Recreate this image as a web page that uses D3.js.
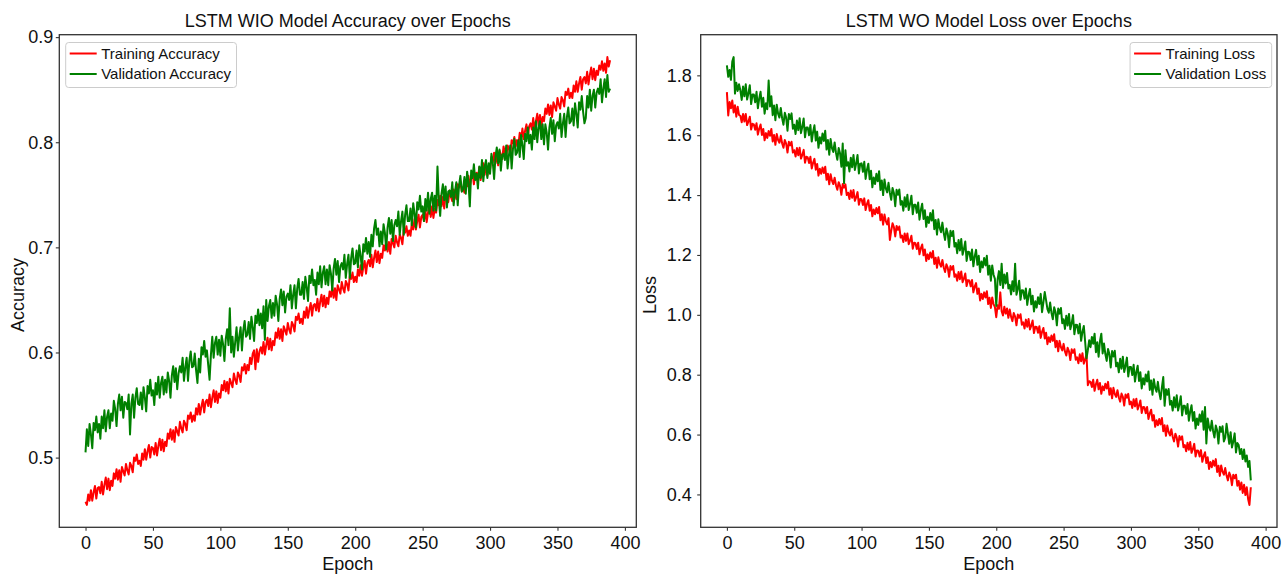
<!DOCTYPE html>
<meta charset="utf-8">
<style>

body {
  margin: 0;
  background: #fff;
}

svg {
  font-family: "Liberation Sans", Arial, sans-serif;
}

.spine {
  fill: none;
  stroke: #333;
  stroke-width: 1.3px;
}

.axis path {
  display: none;
}

.axis line {
  stroke: #333;
  stroke-width: 1.1px;
}

.axis text {
  font-size: 18px;
  fill: #111;
}

.title,
.label {
  font-size: 18px;
  fill: #111;
}

.series {
  fill: none;
  stroke-width: 2px;
  stroke-linejoin: round;
}

.legend-box {
  fill: #fff;
  fill-opacity: 0.8;
  stroke: #ccc;
  stroke-width: 1px;
}

.legend text {
  font-size: 15px;
  fill: #111;
}

</style>
<svg width="1283" height="574"></svg>
<script src="https://d3js.org/d3.v7.min.js"></script>
<script>

// one value per epoch (0..389)
var trainAcc = [
  .458,.455,.465,.459,.469,.459,.467,.473,.461,.471,
  .472,.466,.477,.465,.474,.481,.470,.480,.469,.478,
  .473,.485,.480,.489,.479,.488,.477,.491,.487,.483,
  .494,.488,.484,.495,.492,.486,.500,.497,.503,.494,
  .497,.492,.504,.498,.508,.498,.506,.512,.500,.510,
  .509,.503,.514,.502,.511,.518,.507,.517,.506,.515,
  .511,.523,.518,.527,.517,.526,.515,.529,.525,.521,
  .534,.528,.524,.535,.532,.526,.540,.537,.543,.534,
  .540,.535,.547,.541,.551,.541,.549,.555,.543,.553,
  .555,.549,.560,.548,.557,.564,.553,.563,.552,.561,
  .557,.569,.564,.573,.563,.572,.561,.575,.571,.567,
  .580,.574,.570,.581,.578,.572,.586,.583,.589,.580,
  .588,.583,.595,.589,.599,.602,.584,.603,.591,.601,
  .605,.599,.610,.598,.607,.614,.603,.613,.602,.611,
  .607,.619,.614,.623,.613,.622,.611,.625,.621,.617,
  .628,.622,.618,.629,.626,.620,.634,.631,.637,.628,
  .632,.627,.639,.633,.643,.633,.641,.647,.635,.645,
  .646,.640,.651,.639,.648,.655,.644,.654,.643,.652,
  .646,.658,.653,.662,.652,.661,.650,.664,.660,.656,
  .667,.661,.657,.668,.665,.659,.673,.670,.676,.667,
  .672,.667,.679,.673,.683,.673,.681,.687,.675,.685,
  .688,.682,.693,.681,.690,.697,.686,.696,.685,.694,
  .690,.702,.697,.706,.696,.705,.694,.708,.704,.700,
  .711,.705,.701,.712,.709,.703,.717,.714,.720,.711,
  .716,.711,.723,.717,.727,.717,.725,.731,.719,.729,
  .731,.725,.736,.724,.733,.740,.729,.739,.728,.737,
  .733,.745,.740,.749,.739,.748,.737,.751,.747,.743,
  .754,.748,.744,.755,.752,.746,.760,.757,.763,.754,
  .757,.752,.764,.758,.768,.758,.766,.772,.760,.770,
  .771,.765,.776,.764,.773,.780,.769,.779,.768,.777,
  .774,.786,.781,.790,.780,.789,.778,.792,.788,.784,
  .796,.790,.786,.797,.794,.788,.802,.799,.805,.796,
  .802,.797,.809,.803,.813,.803,.811,.817,.805,.815,
  .818,.812,.823,.811,.820,.827,.816,.826,.815,.824,
  .820,.832,.827,.836,.826,.835,.824,.838,.834,.830,
  .842,.836,.832,.843,.840,.834,.848,.845,.851,.842,
  .847,.842,.854,.848,.858,.848,.856,.862,.850,.860,
  .862,.856,.867,.855,.864,.871,.860,.870,.859,.868,
  .864,.873,.869,.877,.868,.875,.866,.881,.872,.878
];

var valAcc = [
  .505,.527,.511,.532,.522,.509,.533,.526,.539,.524,
  .532,.518,.539,.528,.545,.525,.539,.545,.528,.542,
  .535,.554,.546,.530,.551,.560,.545,.558,.538,.553,
  .552,.546,.560,.522,.551,.560,.538,.557,.566,.551,
  .550,.562,.546,.567,.557,.544,.568,.561,.574,.559,
  .564,.550,.571,.560,.577,.557,.571,.577,.560,.574,
  .562,.581,.573,.557,.578,.587,.572,.585,.565,.580,
  .587,.581,.595,.573,.586,.595,.573,.592,.601,.586,
  .587,.599,.583,.571,.594,.581,.605,.598,.611,.596,
  .602,.588,.574,.598,.615,.595,.609,.615,.598,.612,
  .597,.616,.608,.592,.613,.622,.607,.642,.600,.615,
  .596,.610,.624,.602,.615,.624,.602,.621,.630,.615,
  .617,.629,.613,.634,.624,.611,.635,.628,.641,.626,
  .637,.623,.644,.612,.650,.630,.644,.650,.633,.647,
  .635,.654,.646,.630,.651,.660,.645,.658,.638,.653,
  .656,.650,.664,.642,.655,.664,.642,.661,.670,.655,
  .655,.667,.651,.672,.662,.649,.673,.666,.679,.664,
  .669,.655,.676,.665,.682,.662,.676,.682,.665,.679,
  .664,.683,.675,.659,.680,.689,.674,.687,.667,.682,
  .685,.679,.693,.671,.684,.693,.671,.690,.699,.684,
  .685,.697,.681,.702,.692,.679,.703,.696,.709,.694,
  .705,.691,.712,.701,.718,.726,.712,.718,.701,.715,
  .703,.722,.714,.698,.719,.728,.713,.726,.706,.721,
  .726,.720,.734,.712,.725,.734,.712,.731,.740,.725,
  .725,.737,.721,.742,.732,.719,.743,.736,.749,.734,
  .739,.725,.746,.735,.752,.732,.746,.752,.735,.749,
  .735,.777,.746,.730,.751,.760,.745,.758,.738,.753,
  .754,.748,.762,.740,.753,.762,.740,.759,.768,.753,
  .755,.767,.751,.772,.762,.739,.773,.766,.779,.764,
  .770,.756,.777,.766,.783,.763,.777,.783,.766,.780,
  .770,.789,.781,.765,.786,.795,.780,.793,.773,.788,
  .789,.783,.797,.775,.788,.797,.775,.794,.803,.788,
  .790,.802,.786,.807,.797,.784,.808,.801,.814,.799,
  .807,.793,.814,.803,.820,.800,.814,.820,.803,.817,
  .798,.817,.809,.793,.814,.823,.808,.821,.801,.816,
  .819,.813,.827,.805,.818,.827,.805,.824,.833,.818,
  .820,.832,.816,.837,.827,.814,.838,.831,.844,.829,
  .818,.823,.844,.833,.850,.830,.844,.850,.833,.847,
  .851,.846,.860,.838,.851,.860,.843,.864,.848,.851
];

var trainLoss = [
  1.744,1.666,1.711,1.690,1.716,1.676,1.700,1.662,1.695,1.668,
  1.665,1.643,1.671,1.646,1.671,1.634,1.646,1.662,1.619,1.638,
  1.636,1.618,1.640,1.602,1.622,1.636,1.601,1.621,1.583,1.607,
  1.591,1.614,1.598,1.621,1.579,1.601,1.568,1.604,1.584,1.575,
  1.598,1.573,1.558,1.584,1.572,1.542,1.578,1.566,1.578,1.542,
  1.550,1.529,1.557,1.533,1.558,1.522,1.534,1.551,1.508,1.528,
  1.526,1.507,1.528,1.489,1.508,1.521,1.485,1.504,1.465,1.488,
  1.471,1.492,1.474,1.495,1.451,1.471,1.436,1.470,1.448,1.437,
  1.458,1.433,1.418,1.443,1.431,1.401,1.437,1.425,1.436,1.400,
  1.408,1.387,1.415,1.391,1.417,1.381,1.393,1.410,1.368,1.387,
  1.386,1.367,1.389,1.350,1.370,1.383,1.348,1.367,1.329,1.352,
  1.336,1.357,1.339,1.360,1.316,1.336,1.301,1.335,1.313,1.302,
  1.323,1.250,1.281,1.306,1.293,1.262,1.297,1.284,1.295,1.258,
  1.265,1.243,1.272,1.247,1.272,1.236,1.248,1.264,1.221,1.241,
  1.239,1.220,1.241,1.202,1.222,1.235,1.199,1.218,1.180,1.202,
  1.186,1.208,1.191,1.213,1.170,1.191,1.157,1.192,1.171,1.161,
  1.183,1.158,1.143,1.169,1.157,1.127,1.163,1.151,1.163,1.127,
  1.135,1.114,1.143,1.119,1.145,1.109,1.121,1.138,1.096,1.116,
  1.115,1.095,1.116,1.075,1.094,1.106,1.070,1.088,1.048,1.070,
  1.053,1.075,1.058,1.079,1.036,1.057,1.023,1.058,1.036,1.026,
  0.992,1.032,1.020,1.075,1.012,0.998,1.027,1.004,1.021,0.990,
  1.018,0.994,0.979,1.006,0.994,0.965,1.001,0.990,1.002,0.967,
  0.975,0.954,0.984,0.960,0.986,0.951,0.964,0.981,0.939,0.960,
  0.959,0.940,0.962,0.923,0.943,0.956,0.921,0.940,0.902,0.925,
  0.909,0.931,0.913,0.935,0.892,0.913,0.878,0.913,0.892,0.881,
  0.903,0.878,0.864,0.890,0.878,0.849,0.885,0.873,0.885,0.850,
  0.858,0.838,0.868,0.845,0.872,0.837,0.851,0.869,0.765,0.778,
  0.776,0.759,0.783,0.746,0.768,0.783,0.751,0.772,0.736,0.761,
  0.748,0.770,0.754,0.776,0.733,0.755,0.721,0.756,0.735,0.726,
  0.748,0.724,0.710,0.737,0.726,0.697,0.734,0.723,0.736,0.701,
  0.710,0.689,0.718,0.694,0.720,0.684,0.697,0.714,0.672,0.692,
  0.691,0.671,0.692,0.652,0.671,0.683,0.647,0.665,0.626,0.648,
  0.631,0.652,0.634,0.655,0.611,0.631,0.596,0.630,0.608,0.597,
  0.618,0.593,0.577,0.603,0.590,0.560,0.595,0.583,0.594,0.558,
  0.565,0.544,0.573,0.549,0.575,0.539,0.552,0.569,0.527,0.547,
  0.546,0.527,0.548,0.509,0.528,0.541,0.505,0.524,0.485,0.508,
  0.491,0.513,0.496,0.518,0.475,0.496,0.462,0.497,0.476,0.466,
  0.488,0.463,0.447,0.473,0.461,0.431,0.466,0.454,0.466,0.429,
  0.445,0.416,0.440,0.405,0.432,0.398,0.424,0.385,0.365,0.424
];

var valLoss = [
  1.833,1.795,1.818,1.785,1.846,1.861,1.739,1.775,1.748,1.770,
  1.750,1.718,1.763,1.730,1.770,1.719,1.740,1.767,1.704,1.736,
  1.736,1.710,1.745,1.690,1.723,1.745,1.695,1.725,1.672,1.707,
  1.687,1.783,1.696,1.730,1.667,1.699,1.650,1.702,1.672,1.659,
  1.691,1.657,1.635,1.675,1.659,1.615,1.671,1.654,1.673,1.622,
  1.635,1.604,1.649,1.617,1.657,1.607,1.628,1.656,1.593,1.626,
  1.626,1.600,1.634,1.579,1.611,1.633,1.582,1.612,1.558,1.593,
  1.572,1.606,1.581,1.615,1.552,1.584,1.535,1.587,1.557,1.544,
  1.576,1.541,1.518,1.557,1.540,1.495,1.572,1.440,1.550,1.498,
  1.510,1.479,1.525,1.493,1.534,1.484,1.506,1.534,1.472,1.505,
  1.506,1.478,1.511,1.454,1.485,1.505,1.453,1.481,1.426,1.459,
  1.437,1.471,1.446,1.480,1.417,1.449,1.400,1.452,1.422,1.409,
  1.441,1.407,1.384,1.424,1.407,1.363,1.418,1.401,1.419,1.368,
  1.380,1.348,1.393,1.361,1.401,1.350,1.371,1.398,1.336,1.368,
  1.368,1.341,1.375,1.318,1.350,1.371,1.320,1.349,1.294,1.328,
  1.307,1.340,1.315,1.349,1.286,1.317,1.268,1.319,1.290,1.276,
  1.308,1.273,1.250,1.288,1.271,1.226,1.281,1.263,1.280,1.228,
  1.240,1.206,1.250,1.215,1.253,1.201,1.220,1.245,1.180,1.211,
  1.209,1.183,1.218,1.162,1.195,1.217,1.167,1.197,1.143,1.178,
  1.158,1.190,1.165,1.197,1.134,1.164,1.114,1.165,1.134,1.120,
  1.030,1.118,1.146,1.100,1.171,1.090,1.135,1.105,1.140,1.088,
  1.100,1.068,1.112,1.079,1.171,1.067,1.087,1.114,1.050,1.082,
  1.081,1.054,1.088,1.033,1.065,1.086,1.035,1.064,1.011,1.045,
  1.024,1.059,1.036,1.070,1.009,1.042,1.076,1.048,1.019,1.007,
  1.041,1.007,0.985,1.025,1.009,0.965,1.021,1.004,1.023,0.972,
  0.985,0.953,0.997,0.964,1.003,0.952,0.972,0.999,0.935,0.967,
  0.966,0.938,0.970,0.913,0.943,0.963,0.910,0.855,0.882,0.915,
  0.892,0.926,0.903,0.937,0.875,0.908,0.860,0.912,0.937,0.871,
  0.904,0.869,0.846,0.886,0.869,0.824,0.879,0.861,0.880,0.828,
  0.840,0.808,0.853,0.820,0.860,0.809,0.830,0.857,0.794,0.826,
  0.826,0.799,0.833,0.777,0.809,0.830,0.779,0.808,0.754,0.788,
  0.767,0.801,0.777,0.811,0.749,0.781,0.733,0.785,0.756,0.743,
  0.776,0.741,0.718,0.758,0.792,0.696,0.751,0.733,0.752,0.700,
  0.712,0.680,0.725,0.691,0.731,0.680,0.701,0.728,0.664,0.696,
  0.696,0.669,0.702,0.646,0.677,0.698,0.646,0.675,0.620,0.654,
  0.632,0.667,0.643,0.678,0.616,0.692,0.570,0.654,0.625,0.613,
  0.646,0.612,0.590,0.630,0.614,0.570,0.626,0.609,0.628,0.577,
  0.590,0.636,0.602,0.569,0.608,0.557,0.577,0.604,0.540,0.572,
  0.565,0.535,0.552,0.518,0.550,0.510,0.530,0.492,0.512,0.447
];

var epochTicks = [0, 50, 100, 150, 200, 250, 300, 350, 400];
var accTicks = [0.5, 0.6, 0.7, 0.8, 0.9];
var lossTicks = [0.4, 0.6, 0.8, 1.0, 1.2, 1.4, 1.6, 1.8];

var svg = d3.select("svg");

var plotTop = 34.7,
    plotBottom = 527.3;

// matplotlib-style 5% margin around the data
function padded(extent) {
  var m = (extent[1] - extent[0]) * 0.05;
  return [extent[0] - m, extent[1] + m];
}

function panel(o) {
  var g = svg.append("g");

  var x = d3.scaleLinear()
      .domain(padded([0, o.series[0].values.length - 1]))
      .range([o.left, o.right]);

  var y = d3.scaleLinear()
      .domain(padded(d3.extent(o.series[0].values.concat(o.series[1].values))))
      .range([plotBottom, plotTop]);

  var line = d3.line()
      .x(function(d, i) { return x(i); })
      .y(function(d) { return y(d); });

  g.selectAll(".series")
      .data(o.series)
    .enter().append("path")
      .attr("class", "series")
      .attr("stroke", function(s) { return s.color; })
      .attr("d", function(s) { return line(s.values); });

  g.append("rect")
      .attr("class", "spine")
      .attr("x", o.left)
      .attr("y", plotTop)
      .attr("width", o.right - o.left)
      .attr("height", plotBottom - plotTop);

  g.append("g")
      .attr("class", "axis")
      .attr("transform", "translate(0," + plotBottom + ")")
      .call(d3.axisBottom(x)
          .tickValues(epochTicks)
          .tickFormat(d3.format("d"))
          .tickSize(3.5)
          .tickPadding(5.7));

  g.append("g")
      .attr("class", "axis")
      .attr("transform", "translate(" + o.left + ",0)")
      .call(d3.axisLeft(y)
          .tickValues(o.yTicks)
          .tickFormat(d3.format(".1f"))
          .tickSize(3.5)
          .tickPadding(o.yPad));

  var cx = (o.left + o.right) / 2;

  g.append("text")
      .attr("class", "title")
      .attr("x", cx)
      .attr("y", 26.5)
      .attr("text-anchor", "middle")
      .text(o.title);

  g.append("text")
      .attr("class", "label")
      .attr("x", cx)
      .attr("y", 570)
      .attr("text-anchor", "middle")
      .text("Epoch");

  g.append("text")
      .attr("class", "label")
      .attr("transform", "translate(" + o.yLabelX + ",295) rotate(-90)")
      .attr("text-anchor", "middle")
      .text(o.yLabel);

  // legend
  var lg = g.append("g").attr("class", "legend");
  var box = lg.append("rect")
      .attr("class", "legend-box")
      .attr("rx", 3)
      .attr("ry", 3);

  var widths = o.series.map(function(s, i) {
    var cy = 11 + i * 20.5;
    lg.append("line")
        .attr("x1", 4)
        .attr("x2", 31)
        .attr("y1", cy)
        .attr("y2", cy)
        .attr("stroke", s.color)
        .attr("stroke-width", 2);
    return lg.append("text")
        .attr("x", 35.5)
        .attr("y", cy)
        .attr("dy", "0.35em")
        .text(s.name)
      .node().getComputedTextLength();
  });

  var w = 35.5 + d3.max(widths) + 5.5;
  box.attr("width", w).attr("height", 45);

  var lx = o.legendRight ? o.right - 5.3 - w : o.left + 6.4;
  lg.attr("transform", "translate(" + lx + "," + (plotTop + 7.8) + ")");
}

panel({
  left: 59.3,
  right: 636.3,
  title: "LSTM WIO Model Accuracy over Epochs",
  yLabel: "Accuracy",
  yLabelX: 23.5,
  yTicks: accTicks,
  yPad: 2.5,
  legendRight: false,
  series: [
    {name: "Training Accuracy", color: "#ff0000", values: trainAcc},
    {name: "Validation Accuracy", color: "#008000", values: valAcc}
  ]
});

panel({
  left: 700.7,
  right: 1277,
  title: "LSTM WO Model Loss over Epochs",
  yLabel: "Loss",
  yLabelX: 656,
  yTicks: lossTicks,
  yPad: 5.5,
  legendRight: true,
  series: [
    {name: "Training Loss", color: "#ff0000", values: trainLoss},
    {name: "Validation Loss", color: "#008000", values: valLoss}
  ]
});

</script>
